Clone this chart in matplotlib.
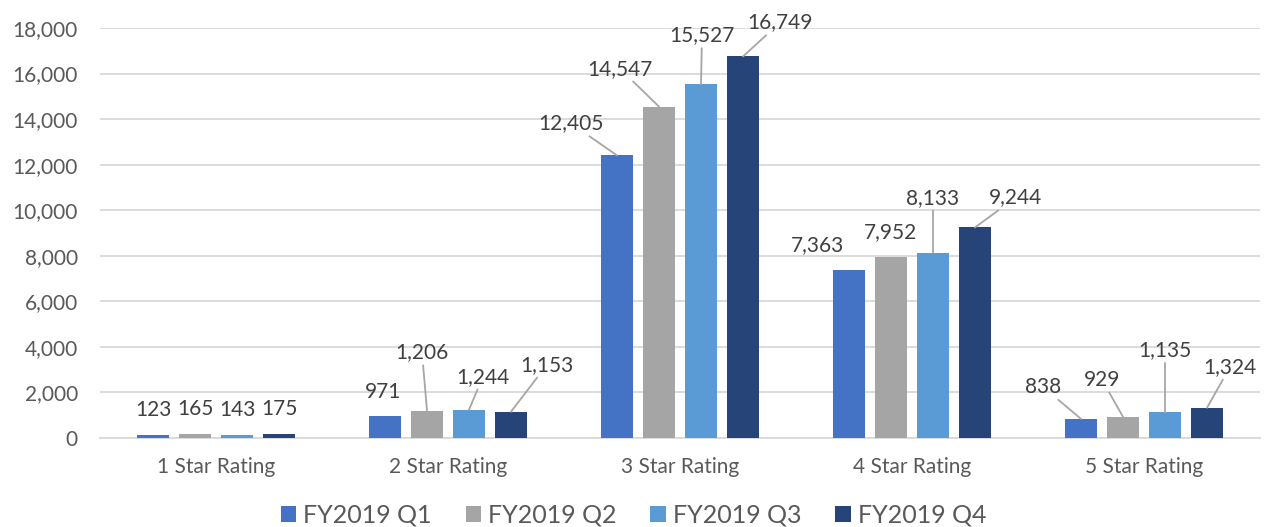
import numpy as np
import matplotlib
matplotlib.use("Agg")
import matplotlib.pyplot as plt

# --- Data ---
categories = ["1 Star Rating", "2 Star Rating", "3 Star Rating", "4 Star Rating", "5 Star Rating"]
series_names = ["FY2019 Q1", "FY2019 Q2", "FY2019 Q3", "FY2019 Q4"]
q1 = [123, 971, 12405, 7363, 838]
q2 = [165, 1206, 14547, 7952, 929]
q3 = [143, 1244, 15527, 8133, 1135]
q4 = [175, 1153, 16749, 9244, 1324]
y_ticks = [0, 2000, 4000, 6000, 8000, 10000, 12000, 14000, 16000, 18000]

# --- Label placement (pixel offsets from bar top, leader line flag) ---
# indexed [series][category]
label_offsets = [
    [(0, 25, False), (-2, 24, False), (-46, 32, True), (-32, 25, False), (-38, 32, True)],
    [(0, 25, False), (-5, 58, True), (-39, 38, True), (-1, 25, False), (-21, 37, True)],
    [(0, 25, False), (14, 33, True), (1, 49, True), (0, 55, True), (0, 62, True)],
    [(0, 25, False), (36, 47, True), (37, 34, True), (41, 30, True), (23, 41, True)],
]

colors = ["#4472C4", "#A5A5A5", "#5B9BD5", "#264478"]
text_color = "#595959"
label_color = "#404040"
grid_color = "#D9D9D9"

plt.rcParams['font.family'] = ['Lato', 'DejaVu Sans']

fig = plt.figure(figsize=(12.67, 5.27), dpi=100)
ax = fig.add_axes([100 / 1267, 1 - 438 / 527, 1160 / 1267, 410 / 527])

x = np.arange(len(categories))
bar_w = 0.142
step = 0.181
all_series = [q1, q2, q3, q4]

for i, (vals, name, col) in enumerate(zip(all_series, series_names, colors)):
    xs = x + (i - 1.5) * step
    ax.bar(xs, vals, width=bar_w, color=col, label=name, zorder=3)
    for j, v in enumerate(vals):
        dx, dy, line = label_offsets[i][j]
        props = None
        if line:
            props = dict(arrowstyle='-', color='#A6A6A6', lw=1.3,
                         shrinkA=0, shrinkB=0)
        ax.annotate(f"{v:,}", xy=(xs[j], v), xytext=(dx, dy),
                    textcoords='offset pixels', ha='center', va='center',
                    fontsize=15, color=label_color, arrowprops=props,
                    zorder=4)

ax.set_xlim(-0.5, len(categories) - 0.5)
ax.set_ylim(0, 18000)
ax.set_yticks(y_ticks)
ax.set_yticklabels([f"{t:,}" for t in y_ticks])
ax.set_xticks(x)
ax.set_xticklabels(categories)

ax.grid(axis='y', color=grid_color, linewidth=1.3, zorder=0)
ax.set_axisbelow(True)
for side in ['top', 'right', 'left']:
    ax.spines[side].set_visible(False)
ax.spines['bottom'].set_color(grid_color)
ax.spines['bottom'].set_linewidth(1.3)
ax.tick_params(axis='both', length=0, colors=text_color, labelsize=15)
ax.tick_params(axis='y', pad=16)
ax.tick_params(axis='x', pad=14)

fig.legend(loc='center', bbox_to_anchor=(0.5, 1 - 515 / 527), ncol=4,
           frameon=False, fontsize=18, handlelength=0.62, handleheight=0.62,
           handletextpad=0.28, columnspacing=1.35, labelcolor=text_color)

fig.savefig("out.png", dpi=100)
